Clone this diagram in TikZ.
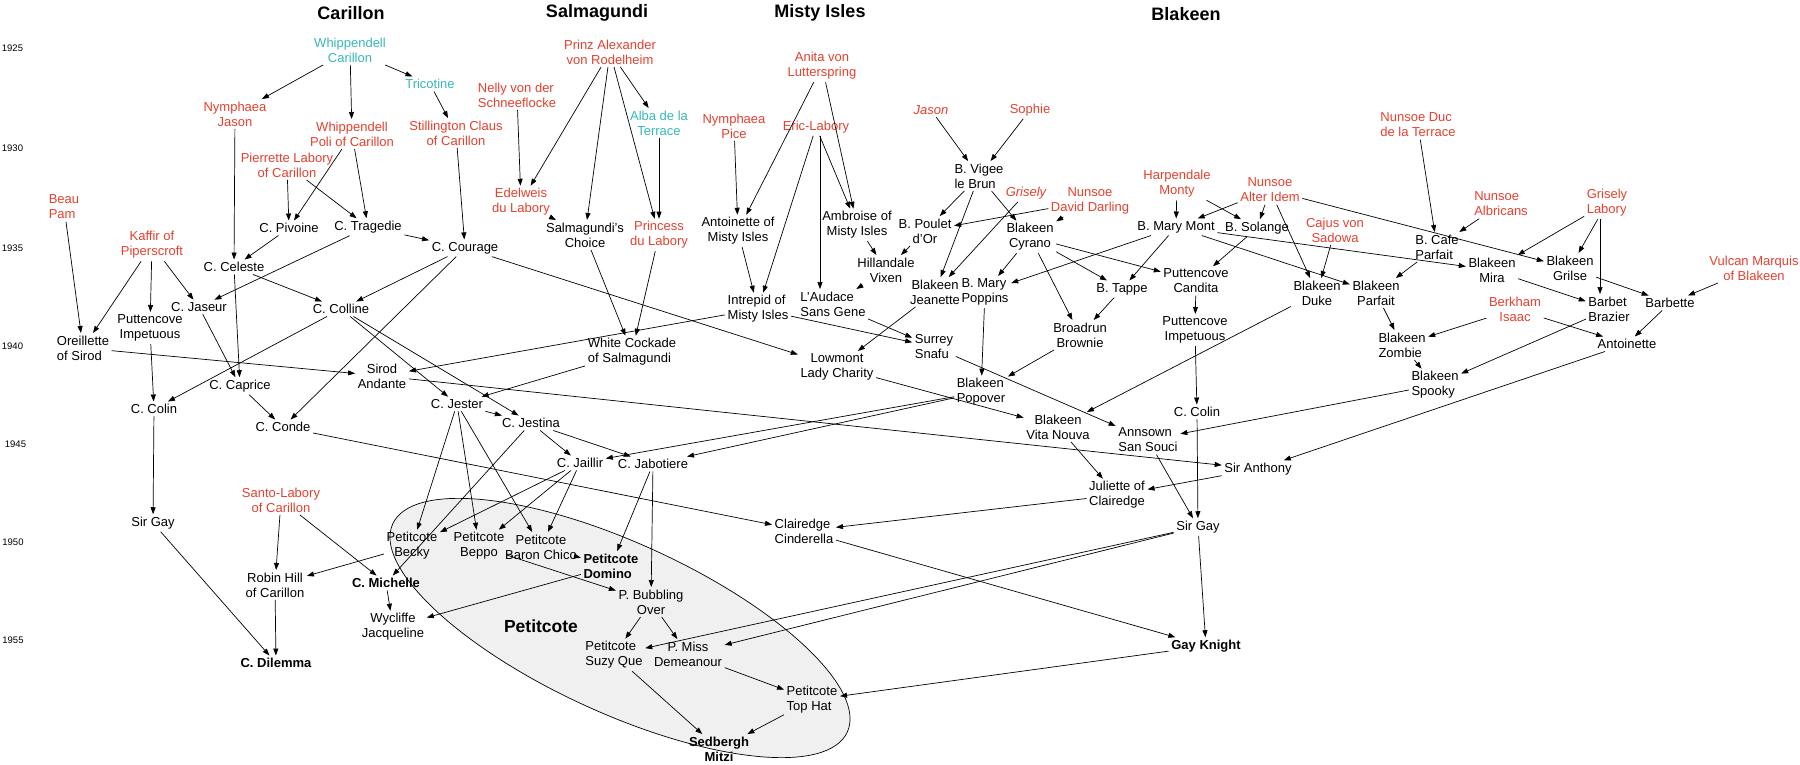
\documentclass[tikz,border=0pt]{standalone}
\usepackage{fontspec}
\setmainfont{Liberation Sans}
\usetikzlibrary{arrows.meta}
\definecolor{pedred}{RGB}{228,65,47}
\definecolor{pedteal}{RGB}{56,184,184}
\definecolor{ellgray}{RGB}{240,240,240}
\newcommand{\nodefont}{\fontsize{13}{15}\selectfont}
\newcommand{\titlefont}{\fontsize{18}{20}\selectfont\bfseries}
\newcommand{\yearfont}{\fontsize{9.5}{11}\selectfont}
\begin{document}
\begin{tikzpicture}[x=1pt,y=-1pt,
  nd/.style={font=\nodefont, inner sep=2.5pt, align=center},
  ndl/.style={nd, align=left},
  rd/.style={nd, text=pedred},
  rdl/.style={ndl, text=pedred},
  rdi/.style={nd, text=pedred, font=\nodefont\itshape},
  tl/.style={nd, text=pedteal},
  bd/.style={nd, font=\nodefont\bfseries},
  bdl/.style={ndl, font=\nodefont\bfseries},
  ttl/.style={font=\titlefont, inner sep=0pt},
  yr/.style={font=\yearfont, inner sep=0pt},
  arr/.style={-{Triangle[length=7pt,width=5pt]}, line width=0.7pt},
]
\useasboundingbox (0,0) rectangle (1800,765);
\fill[white] (0,0) rectangle (1800,765);

% ellipse group
\begin{scope}[shift={(620,628)}, rotate=-24.6]
\draw[fill=ellgray, line width=0.7pt] (0,0) ellipse [x radius=250, y radius=85];
\end{scope}

% titles
\node[ttl] (tCar) at (351,13) {Carillon};
\node[ttl] (tSal) at (597,13) {Salmagundi};
\node[ttl] (tMis) at (820,13) {Misty Isles};
\node[ttl] (tBla) at (1186,14) {Blakeen};

% years
\node[yr] (y25) at (12.5,48) {1925};
\node[yr] (y30) at (12.5,148) {1930};
\node[yr] (y35) at (12.5,248) {1935};
\node[yr] (y40) at (12.5,346) {1940};
\node[yr] (y45) at (15.5,444) {1945};
\node[yr] (y50) at (13,542) {1950};
\node[yr] (y55) at (13,640) {1955};

% Carillon
\node[tl] (wc) at (350,50) {Whippendell\\Carillon};
\node[tl] (tric) at (430,84) {Tricotine};
\node[rd] (nj) at (235,114) {Nymphaea\\Jason};
\node[rd] (wp) at (352,134) {Whippendell\\Poli of Carillon};
\node[rd] (sc) at (456,133) {Stillington Claus\\of Carillon};
\node[rd] (pl) at (287,165) {Pierrette Labory\\of Carillon};
\node[rdl] (bp) at (64,207) {Beau\\Pam};
\node[rd] (kp) at (152,245) {Kaffir of\\Piperscroft};
\node[nd] (piv) at (289,228) {C. Pivoine};
\node[nd] (trag) at (368,227) {C. Tragedie};
\node[nd] (cour) at (465,248) {C. Courage};
\node[nd] (cel) at (234,267) {C. Celeste};
\node[nd] (jas) at (199,307) {C. Jaseur};
\node[nd] (coll) at (341,309) {C. Colline};
\node[nd] (pimpL) at (150,328) {Puttencove\\Impetuous};
\node[ndl] (ore) at (83,348) {Oreillette\\of Sirod};
\node[nd] (sa) at (382,376) {Sirod\\Andante};
\node[nd] (cap) at (240,386) {C. Caprice};
\node[nd] (colL) at (154,409) {C. Colin};
\node[nd] (conde) at (283,427) {C. Conde};
\node[nd] (jester) at (457,404) {C. Jester};
\node[nd] (jestina) at (531,423) {C. Jestina};
\node[nd] (jaillir) at (580,463) {C. Jaillir};
\node[nd] (jabot) at (653,464) {C. Jabotiere};
\node[nd] (sgL) at (153,523) {Sir Gay};
\node[rd] (santo) at (281,500) {Santo-Labory\\of Carillon};
\node[nd] (robin) at (275,585) {Robin Hill\\of Carillon};
\node[bd] (mich) at (386,583) {C. Michelle};
\node[nd] (wyc) at (393,627) {Wycliffe\\Jacqueline};
\node[bd] (dil) at (276,663) {C. Dilemma};
\node[nd] (becky) at (412,546) {Petitcote\\Becky};
\node[nd] (beppo) at (479,546) {Petitcote\\Beppo};
\node[nd] (baron) at (541,547) {Petitcote\\Baron Chico};
\node[bdl] (domino) at (611,566) {Petitcote\\Domino};
\node[nd] (bub) at (651,602) {P. Bubbling\\Over};
\node[ndl] (suzy) at (614,655) {Petitcote\\Suzy Que};
\node[nd] (miss) at (688,654) {P. Miss\\Demeanour};
\node[ndl] (tophat) at (812,700) {Petitcote\\Top Hat};
\node[bd] (sed) at (719,749) {Sedbergh\\Mitzi};
\node[font=\fontsize{17.5}{20}\selectfont\bfseries, inner sep=0pt] (petlabel) at (541,626) {Petitcote};

% Salmagundi
\node[rd] (prinz) at (610,52) {Prinz Alexander\\von Rodelheim};
\node[rdl] (nelly) at (517,95) {Nelly von der\\Schneeflocke};
\node[tl] (alba) at (659,123) {Alba de la\\Terrace};
\node[rd] (edel) at (521,202) {Edelweis\\du Labory};
\node[nd] (schoice) at (585,235) {Salmagundi's\\Choice};
\node[rd] (princess) at (659,235) {Princess\\du Labory};
\node[ndl] (wcock) at (632,352) {White Cockade\\of Salmagundi};

% Misty Isles
\node[rd] (npice) at (734,126) {Nymphaea\\Pice};
\node[rd] (anita) at (822,66) {Anita von\\Lutterspring};
\node[rd] (eric) at (816,127) {Eric-Labory};
\node[nd] (antMI) at (738,231) {Antoinette of\\Misty Isles};
\node[nd] (ambr) at (857,225) {Ambroise of\\Misty Isles};
\node[nd] (hill) at (886,270) {Hillandale\\Vixen};
\node[ndl] (intr) at (758,309) {Intrepid of\\Misty Isles};
\node[ndl] (laud) at (833,304) {L'Audace\\Sans Gene};
\node[nd] (low) at (837,367) {Lowmont\\Lady Charity};
\node[nd] (poulet) at (925,231) {B. Poulet\\d'Or};

% Blakeen
\node[rdi] (jason) at (931,110) {Jason};
\node[rd] (sophie) at (1030,110) {Sophie};
\node[ndl] (vigee) at (979,176) {B. Vigee\\le Brun};
\node[rdi] (grisely) at (1026,193) {Grisely};
\node[rd] (ndd) at (1090,201) {Nunsoe\\David Darling};
\node[nd] (cyrano) at (1030,237) {Blakeen\\Cyrano};
\node[rd] (harp) at (1177,184) {Harpendale\\Monty};
\node[rd] (nai) at (1270,190) {Nunsoe\\Alter Idem};
\node[nd] (bmm) at (1176,227) {B. Mary Mont};
\node[nd] (sol) at (1257,228) {B. Solange};
\node[rd] (cajus) at (1335,230) {Cajus von\\Sadowa};
\node[rdl] (ndt) at (1418,125) {Nunsoe Duc\\de la Terrace};
\node[rdl] (nalb) at (1501,204) {Nunsoe\\Albricans};
\node[rdl] (gl) at (1607,203) {Grisely\\Labory};
\node[ndl] (bcp) at (1437,247) {B. Cafe\\Parfait};
\node[nd] (jean) at (935,292) {Blakeen\\Jeanette};
\node[ndl] (bmp) at (985,292) {B. Mary\\Poppins};
\node[nd] (tappe) at (1122,289) {B. Tappe};
\node[nd] (pcand) at (1196,281) {Puttencove\\Candita};
\node[nd] (duke) at (1317,293) {Blakeen\\Duke};
\node[nd] (bparf) at (1376,293) {Blakeen\\Parfait};
\node[nd] (mira) at (1492,270) {Blakeen\\Mira};
\node[nd] (grilse) at (1570,268) {Blakeen\\Grilse};
\node[rd] (vulcan) at (1754,268) {Vulcan Marquis\\of Blakeen};
\node[nd] (broad) at (1080,335) {Broadrun\\Brownie};
\node[nd] (pimpR) at (1195,330) {Puttencove\\Impetuous};
\node[ndl] (surrey) at (934,347) {Surrey\\Snafu};
\node[rd] (berk) at (1515,309) {Berkham\\Isaac};
\node[ndl] (barbet) at (1609,309) {Barbet\\Brazier};
\node[nd] (barbette) at (1670,303) {Barbette};
\node[ndl] (zombie) at (1402,345) {Blakeen\\Zombie};
\node[nd] (antoi) at (1627,344) {Antoinette};
\node[ndl] (spooky) at (1435,385) {Blakeen\\Spooky};
\node[ndl] (popover) at (981,392) {Blakeen\\Popover};
\node[nd] (colR) at (1197,412) {C. Colin};
\node[nd] (vita) at (1058,427) {Blakeen\\Vita Nouva};
\node[ndl] (ann) at (1148,440) {Annsown\\San Souci};
\node[nd] (santh) at (1258,469) {Sir Anthony};
\node[nd] (jul) at (1117,495) {Juliette of\\Clairedge};
\node[ndl] (clair) at (804,531) {Clairedge\\Cinderella};
\node[nd] (sgR) at (1198,527) {Sir Gay};
\node[bd] (gk) at (1206,646) {Gay Knight};

% vertical guides for straight drops
\coordinate (vEric) at (820,0);
\coordinate (vGl) at (1600,0);

% connectors
\draw[arr] (eric.south -| vEric) -- (laud.north -| vEric);
\draw[arr] (gl.south -| vGl) -- (barbet.north -| vGl);
\foreach \a/\b in {wc/nj, wc/wp, wc/tric, tric/sc, nj/cel, wp/piv, wp/trag, pl/piv, pl/trag,
  trag/cour, piv/cel, trag/jas, bp/ore, kp/ore, kp/pimpL, kp/jas, cel/cap, cel/coll,
  cour/coll, jas/cap, coll/colL, pimpL/colL, ore/sa, cap/conde, colL/sgL, cour/conde,
  sc/cour, cour/low, coll/jester, coll/jestina, sa/santh, intr/sa, wcock/jester,
  jester/jestina, jestina/jaillir, jestina/jabot, jestina/mich, jester/becky,
  jester/beppo, jester/baron, jaillir/becky, jaillir/beppo, jaillir/baron,
  jabot/domino, jabot/bub, baron/domino, beppo/bub, domino/wyc, becky/robin,
  santo/robin, santo/mich, robin/dil, sgL/dil, mich/wyc, bub/suzy, bub/miss,
  miss/tophat, suzy/sed, tophat/sed, conde/clair,
  prinz/edel, prinz/schoice, prinz/princess, prinz/alba, nelly/edel, alba/princess,
  edel/schoice, schoice/wcock, princess/wcock,
  npice/antMI, anita/antMI, anita/ambr, eric/ambr, eric/intr, antMI/intr,
  ambr/hill, poulet/hill, hill/laud, laud/surrey, intr/surrey, jean/low, low/vita,
  jason/vigee, sophie/vigee, vigee/poulet, vigee/cyrano, vigee/jean, grisely/jean,
  ndd/poulet, ndd/cyrano, cyrano/bmp, cyrano/broad, cyrano/tappe, cyrano/pcand,
  harp/bmm, harp/sol, nai/bmm, nai/sol, nai/duke, nai/grilse, cajus/duke,
  bmm/bmp, bmm/tappe, bmm/bparf, bmm/mira, sol/pcand, ndt/bcp, nalb/bcp, bcp/bparf,
  gl/mira, gl/grilse, mira/barbet, grilse/barbette, vulcan/barbette,
  bparf/zombie, berk/zombie, berk/antoi, barbette/antoi, barbet/spooky, zombie/spooky,
  spooky/ann, antoi/santh, pcand/pimpR, pimpR/colR, tappe/broad, bmp/popover,
  broad/popover, surrey/ann, duke/vita, vita/jul, santh/jul, ann/sgR, colR/sgR,
  popover/jaillir, popover/jabot, jul/clair, clair/gk, sgR/suzy, sgR/miss, sgR/gk,
  gk/tophat}
  \draw[arr] (\a) -- (\b);
\end{tikzpicture}
\end{document}
